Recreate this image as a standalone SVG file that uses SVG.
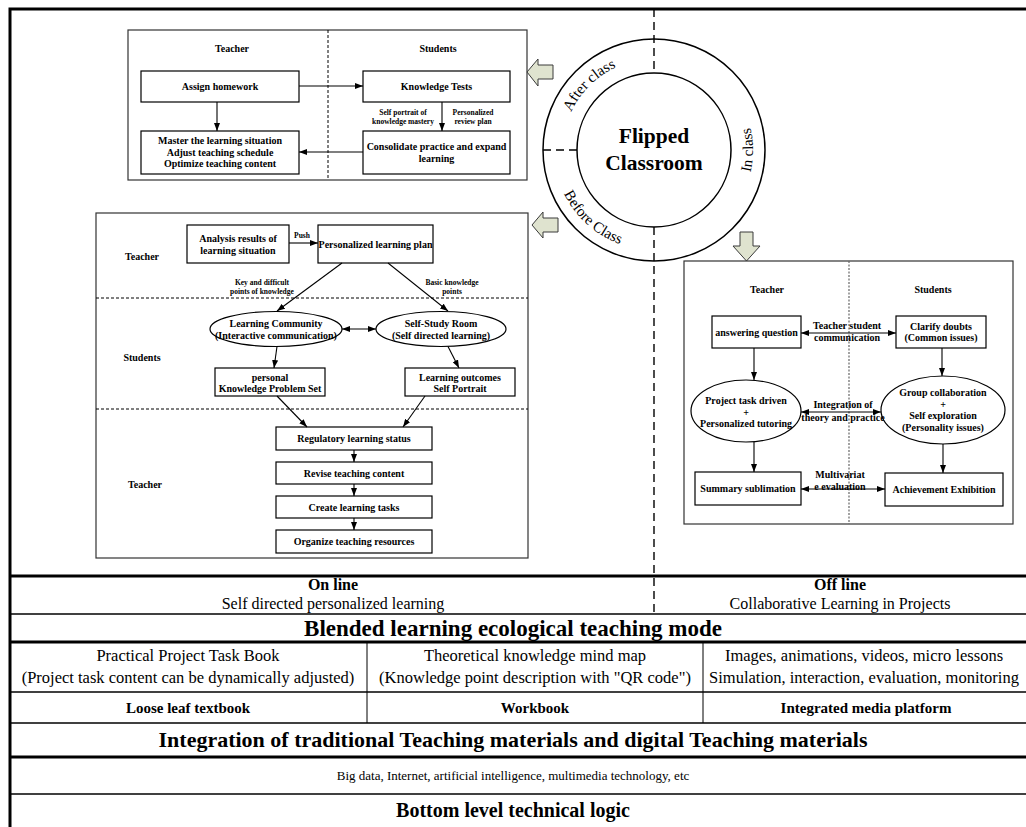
<svg xmlns="http://www.w3.org/2000/svg" width="1026" height="827" viewBox="0 0 1026 827">
<defs>
<marker id="ah" viewBox="0 0 8 6" refX="8" refY="3" markerWidth="8" markerHeight="6" markerUnits="userSpaceOnUse" orient="auto-start-reverse"><path d="M0,0 L8,3 L0,6 z" fill="#000"/></marker>
<path id="pAfter" d="M563 150 A91 91 0 0 1 654 59"/>
<path id="pBefore" d="M554.1 155.2 A100 100 0 0 0 659.2 249.9"/>
<path id="pIn" d="M724 220 A99 99 0 0 0 724 80"/>
</defs>
<style>
text{font-family:"Liberation Serif","Times New Roman",serif;fill:#000}
.h{font-size:10px;font-weight:bold;text-anchor:middle}
.t{font-size:10px;font-weight:bold;text-anchor:middle}
.s{font-size:7.5px;font-weight:bold;text-anchor:middle}
.frame{fill:#fff;stroke:#333;stroke-width:1.2}
.box{fill:#fff;stroke:#000;stroke-width:1.2}
.ell{fill:#fff;stroke:#000;stroke-width:1.2}
.dash{stroke:#000;stroke-width:1;stroke-dasharray:3 2;fill:none}
.dot{stroke:#666;stroke-width:1.2;stroke-dasharray:2 1.5;fill:none}
.ln{stroke:#000;stroke-width:1.1;fill:none;marker-end:url(#ah)}
.ln2{stroke:#000;stroke-width:1.1;fill:none;marker-end:url(#ah);marker-start:url(#ah)}
.big{stroke:#000;stroke-width:1.4;stroke-dasharray:8 5;fill:none}
.barrow{fill:#dfe3cf;stroke:#3a3a3a;stroke-width:1}
.tbl{stroke:#000;fill:none}
.tr{font-size:16.5px;text-anchor:middle}
.tr2{font-size:16px;text-anchor:middle}
.tbb{font-size:16px;font-weight:bold;text-anchor:middle}
.tsb{font-size:15px;font-weight:bold;text-anchor:middle}
.ring{font-size:15px}
</style>
<rect width="1026" height="827" fill="#fff"/>

<g id="outer-frame">
<path d="M10 827 V9 H1030" stroke="#000" stroke-width="3" fill="none"/>
</g>

<g id="after-class-panel">
<rect class="frame" x="128" y="30" width="399" height="150"/>
<line class="dash" x1="328" y1="30" x2="328" y2="180"/>
<text class="h" x="232" y="52">Teacher</text>
<text class="h" x="438" y="52">Students</text>
</g>
<g id="assign-homework"><rect class="box" x="141" y="71" width="158" height="31"/><text class="t" x="220" y="90">Assign homework</text></g>
<g id="knowledge-tests"><rect class="box" x="363" y="71" width="147" height="31"/><text class="t" x="436.5" y="90">Knowledge Tests</text></g>
<g id="master-situation"><rect class="box" x="141" y="131" width="158" height="43"/>
<text class="t" x="220" y="143.5">Master the learning situation</text>
<text class="t" x="220" y="155.5">Adjust teaching schedule</text>
<text class="t" x="220" y="167">Optimize teaching content</text></g>
<g id="consolidate"><rect class="box" x="363" y="131" width="147" height="43"/>
<text class="t" x="436.5" y="149.5">Consolidate practice and expand</text>
<text class="t" x="436.5" y="162">learning</text></g>

<g id="flipped-classroom">
<circle cx="654" cy="150" r="111" fill="#fff" stroke="#000" stroke-width="1.5"/>
<circle cx="654" cy="150" r="77" fill="#fff" stroke="#000" stroke-width="1.5"/>
<line class="big" x1="543" y1="150" x2="577" y2="150"/>
<text x="654" y="143" style="font-size:21.5px;font-weight:bold;text-anchor:middle">Flipped</text>
<text x="654" y="170" style="font-size:21.5px;font-weight:bold;text-anchor:middle">Classroom</text>
<text class="ring"><textPath href="#pAfter" startOffset="50%" text-anchor="middle">After class</textPath></text>
<text class="ring"><textPath href="#pBefore" startOffset="50%" text-anchor="middle">Before Class</textPath></text>
<text class="ring"><textPath href="#pIn" startOffset="50%" text-anchor="middle">In class</textPath></text>
</g>

<g id="block-arrows">
<polygon class="barrow" points="527,72 538,59 538,65 553,65 553,79 538,79 538,86"/>
<polygon class="barrow" points="532,225 543,212 543,218 558,218 558,232 543,232 543,238"/>
<polygon class="barrow" points="740,232 753,232 753,246 760,246 746.5,261 733,246 740,246"/>
</g>

<g id="before-class-panel">
<rect class="frame" x="96" y="213" width="432" height="345"/>
<line class="dash" x1="96" y1="298" x2="528" y2="298"/>
<line class="dash" x1="96" y1="409" x2="528" y2="409"/>
<text class="h" x="142" y="260">Teacher</text>
<text class="h" x="142" y="361">Students</text>
<text class="h" x="145" y="488">Teacher</text>
</g>
<g id="analysis-results"><rect class="box" x="187" y="225" width="102" height="38"/>
<text class="t" x="238" y="241.5">Analysis results of</text>
<text class="t" x="238" y="253.5">learning situation</text></g>
<g id="learning-plan"><rect class="box" x="318" y="225" width="115" height="38"/>
<text class="t" x="375.5" y="247.5">Personalized learning plan</text></g>
<g id="learning-community"><ellipse class="ell" cx="276" cy="329" rx="66" ry="17.5"/>
<text class="t" x="276" y="327">Learning Community</text>
<text class="t" x="276" y="339">(Interactive communication)</text></g>
<g id="self-study-room"><ellipse class="ell" cx="441" cy="329" rx="65" ry="17.5"/>
<text class="t" x="441" y="327">Self-Study Room</text>
<text class="t" x="441" y="339">(Self directed learning)</text></g>
<g id="problem-set"><rect class="box" x="215" y="368" width="110" height="28"/>
<text class="t" x="270" y="380.5">personal</text>
<text class="t" x="270" y="391.5">Knowledge Problem Set</text></g>
<g id="learning-outcomes"><rect class="box" x="405" y="368" width="110" height="28"/>
<text class="t" x="460" y="380.5">Learning outcomes</text>
<text class="t" x="460" y="391.5">Self Portrait</text></g>
<g id="regulatory"><rect class="box" x="276" y="427" width="156" height="23"/><text class="t" x="354" y="442">Regulatory learning status</text></g>
<g id="revise"><rect class="box" x="276" y="462" width="156" height="22"/><text class="t" x="354" y="476.5">Revise teaching content</text></g>
<g id="create-tasks"><rect class="box" x="276" y="496" width="156" height="22"/><text class="t" x="354" y="510.5">Create learning tasks</text></g>
<g id="organize"><rect class="box" x="276" y="530" width="156" height="23"/><text class="t" x="354" y="545">Organize teaching resources</text></g>

<g id="in-class-panel">
<rect class="frame" x="684" y="261" width="329" height="263"/>
<line class="dot" x1="849" y1="261" x2="849" y2="524"/>
<text class="h" x="767" y="293">Teacher</text>
<text class="h" x="933" y="293">Students</text>
</g>
<g id="answering"><rect class="box" x="712" y="316" width="89" height="32"/><text class="t" x="756.5" y="335.5">answering question</text></g>
<g id="clarify"><rect class="box" x="896" y="316" width="90" height="32"/>
<text class="t" x="941" y="329.5">Clarify doubts</text>
<text class="t" x="941" y="341">(Common issues)</text></g>
<g id="project-task"><ellipse class="ell" cx="746" cy="411" rx="55" ry="31"/>
<text class="t" x="746" y="404">Project task driven</text>
<text class="t" x="746" y="415.5">+</text>
<text class="t" x="746" y="427">Personalized tutoring</text></g>
<g id="group-collab"><ellipse class="ell" cx="943" cy="410" rx="62" ry="34"/>
<text class="t" x="943" y="396">Group collaboration</text>
<text class="t" x="943" y="407.5">+</text>
<text class="t" x="943" y="419">Self exploration</text>
<text class="t" x="943" y="431">(Personality issues)</text></g>
<g id="summary"><rect class="box" x="695" y="472" width="106" height="33"/><text class="t" x="748" y="492">Summary sublimation</text></g>
<g id="achievement"><rect class="box" x="885" y="473" width="118" height="33"/><text class="t" x="944" y="493">Achievement Exhibition</text></g>

<g id="connectors">
<line class="big" x1="654" y1="9" x2="654" y2="73"/>
<line class="big" x1="654" y1="227" x2="654" y2="614"/>
<line class="ln" x1="299" y1="86" x2="363" y2="86"/>
<line class="ln" x1="217" y1="102" x2="217" y2="131"/>
<line class="ln" x1="442" y1="102" x2="442" y2="131"/>
<line class="ln" x1="363" y1="152" x2="299" y2="152"/>
<text class="s" x="403" y="115">Self portrait of</text>
<text class="s" x="403" y="124">knowledge mastery</text>
<text class="s" x="473" y="115">Personalized</text>
<text class="s" x="473" y="124">review plan</text>
<line class="ln" x1="289" y1="243" x2="318" y2="243"/>
<text class="s" x="302" y="238">Push</text>
<line class="ln" x1="342" y1="263" x2="277" y2="311"/>
<line class="ln" x1="388" y1="263" x2="448" y2="311"/>
<text class="s" x="262" y="284.5">Key and difficult</text>
<text class="s" x="262" y="293.5">points of knowledge</text>
<text class="s" x="452" y="284.5">Basic knowledge</text>
<text class="s" x="452" y="293.5">points</text>
<line class="ln2" x1="342" y1="329" x2="376" y2="329"/>
<line class="ln" x1="277" y1="346.5" x2="274" y2="368"/>
<line class="ln" x1="448" y1="346.5" x2="459" y2="368"/>
<line class="ln" x1="277" y1="396" x2="307" y2="427"/>
<line class="ln" x1="425" y1="396" x2="403" y2="427"/>
<line class="ln" x1="354" y1="450" x2="354" y2="462"/>
<line class="ln" x1="354" y1="484" x2="354" y2="496"/>
<line class="ln" x1="354" y1="518" x2="354" y2="530"/>
<line class="ln2" x1="801" y1="333" x2="896" y2="333"/>
<text class="t" x="847" y="329">Teacher student</text>
<text class="t" x="847" y="341">communication</text>
<line class="ln" x1="754" y1="348" x2="754" y2="380"/>
<line class="ln" x1="942" y1="348" x2="942" y2="376"/>
<line class="ln2" x1="801" y1="412" x2="881" y2="412"/>
<text class="t" x="843" y="408">Integration of</text>
<text class="t" x="843" y="421">theory and practice</text>
<line class="ln" x1="754" y1="442" x2="754" y2="472"/>
<line class="ln" x1="943" y1="444" x2="943" y2="473"/>
<line class="ln2" x1="801" y1="489" x2="885" y2="489"/>
<text class="t" x="840" y="478">Multivariat</text>
<text class="t" x="840" y="490">e evaluation</text>
</g>

<g id="table">
<line class="tbl" x1="10" y1="576" x2="1030" y2="576" stroke-width="3"/>
<line class="tbl" x1="10" y1="614" x2="1030" y2="614" stroke-width="1.5"/>
<line class="tbl" x1="10" y1="642" x2="1030" y2="642" stroke-width="3"/>
<line class="tbl" x1="10" y1="692" x2="1030" y2="692" stroke-width="1.5"/>
<line class="tbl" x1="10" y1="723" x2="1030" y2="723" stroke-width="1.5"/>
<line class="tbl" x1="10" y1="757" x2="1030" y2="757" stroke-width="3"/>
<line class="tbl" x1="10" y1="794" x2="1030" y2="794" stroke-width="1.5"/>
<line class="tbl" x1="367" y1="642" x2="367" y2="723" stroke-width="1"/>
<line class="tbl" x1="703" y1="642" x2="703" y2="723" stroke-width="1"/>
<text class="tbb" x="333" y="590">On line</text>
<text class="tr2" x="333" y="609">Self directed personalized learning</text>
<text class="tbb" x="840" y="590">Off line</text>
<text class="tr2" x="840" y="609">Collaborative Learning in Projects</text>
<text x="513" y="636" style="font-size:23px;font-weight:bold;text-anchor:middle">Blended learning ecological teaching mode</text>
<text class="tr" x="188" y="661">Practical Project Task Book</text>
<text class="tr" x="188" y="683">(Project task content can be dynamically adjusted)</text>
<text class="tr" x="535" y="661">Theoretical knowledge mind map</text>
<text class="tr" x="535" y="683">(Knowledge point description with "QR code")</text>
<text class="tr" x="864" y="661">Images, animations, videos, micro lessons</text>
<text class="tr" x="864" y="683">Simulation, interaction, evaluation, monitoring</text>
<text class="tsb" x="188" y="713">Loose leaf textbook</text>
<text class="tsb" x="535" y="713">Workbook</text>
<text class="tsb" x="866" y="713">Integrated media platform</text>
<text x="513" y="747" style="font-size:22px;font-weight:bold;text-anchor:middle">Integration of traditional Teaching materials and digital Teaching materials</text>
<text x="513" y="780" style="font-size:13px;text-anchor:middle">Big data, Internet, artificial intelligence, multimedia technology, etc</text>
<text x="513" y="817" style="font-size:20px;font-weight:bold;text-anchor:middle">Bottom level technical logic</text>
</g>
</svg>
